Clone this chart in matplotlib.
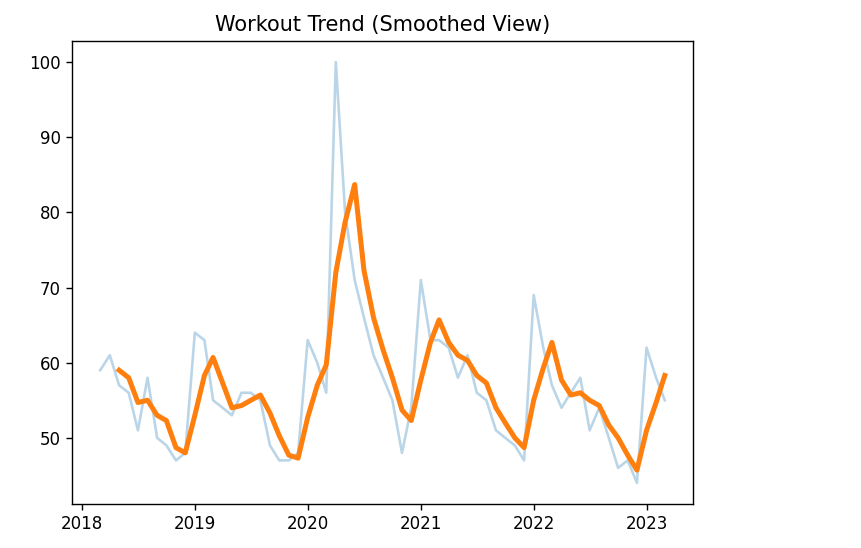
import matplotlib
matplotlib.use("Agg")
import matplotlib.pyplot as plt
import matplotlib.dates as mdates
import pandas as pd

"""data read off the chart-----------------------------------------------"""

start_month = "2018-03-01"      #first month in the series

#monthly workout values (raw, thin light line)
raw_values = [59, 61, 57, 56, 51, 58, 50, 49, 47, 48,
              64, 63, 55, 54, 53, 56, 56, 55, 49, 47, 47, 48,
              63, 60, 56, 100, 80, 71, 66, 61, 58, 55, 48, 54,
              71, 63, 63, 62, 58, 61, 56, 55, 51, 50, 49, 47,
              69, 62, 57, 54, 56, 58, 51, 54, 50, 46, 47, 44,
              62, 58, 55]

#smoothed values (thick orange line), starts at the third month
smooth_values = [59.0, 58.0, 54.7, 55.0, 53.0, 52.3, 48.7, 48.0,
                 53.0, 58.3, 60.7, 57.3, 54.0, 54.3, 55.0, 55.7, 53.3, 50.3, 47.7, 47.3,
                 52.7, 57.0, 59.7, 72.0, 78.7, 83.7, 72.3, 66.0, 61.7, 58.0, 53.7, 52.3,
                 57.7, 62.7, 65.7, 62.7, 61.0, 60.3, 58.3, 57.3, 54.0, 52.0, 50.0, 48.7,
                 55.0, 59.3, 62.7, 57.7, 55.7, 56.0, 55.0, 54.3, 51.7, 50.0, 47.7, 45.7,
                 51.0, 54.7, 58.3]

months = pd.date_range(start_month, periods=len(raw_values), freq="MS")
smooth_months = months[len(raw_values) - len(smooth_values):]

"""plotting--------------------------------------------------------------"""

fig = plt.figure(figsize=(8.61, 5.48), dpi=100)
ax = fig.add_axes([72/861, 44/548, 621/861, 463/548])   #same spot as the reference

ax.plot(months, raw_values, color="C0", alpha=0.3, linewidth=1.9)
ax.plot(smooth_months, smooth_values, color="C1", linewidth=3.6)

ax.xaxis.set_major_locator(mdates.YearLocator())
ax.xaxis.set_major_formatter(mdates.DateFormatter("%Y"))
ax.tick_params(labelsize=12, length=4.5, width=1)
for s in ax.spines.values():
    s.set_linewidth(1)

ax.set_title("Workout Trend (Smoothed View)", fontsize=15, pad=7)

fig.savefig("out.png", dpi=100)
